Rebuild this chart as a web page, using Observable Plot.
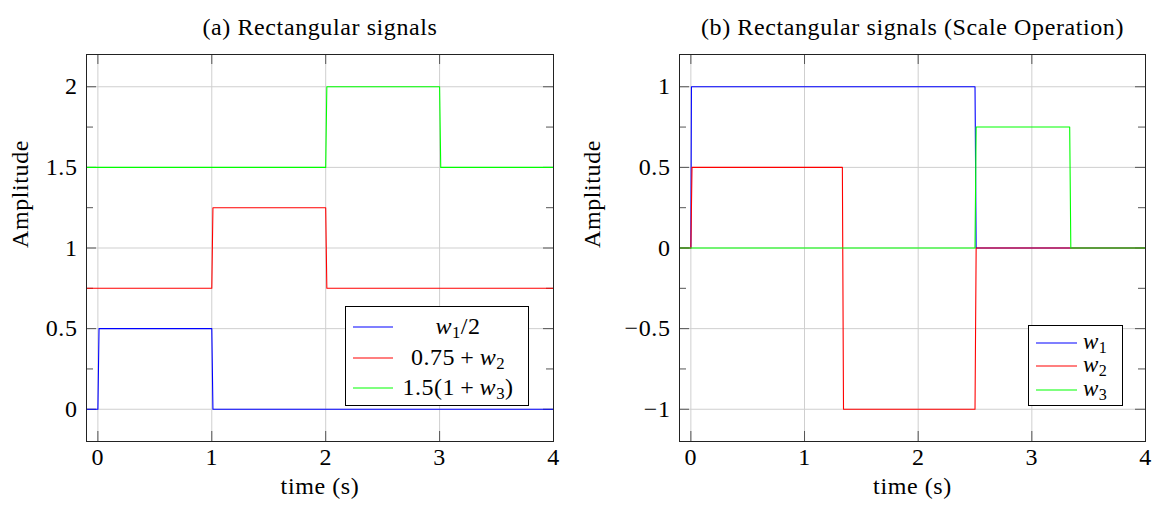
<!DOCTYPE html>
<html>
<head>
<meta charset="utf-8">
<script src="https://cdn.jsdelivr.net/npm/d3@7"></script>
<script src="https://cdn.jsdelivr.net/npm/@observablehq/plot@0.6"></script>
<style>
  html, body { margin: 0; padding: 0; background: #fff; }
  #wrap { position: relative; width: 1158px; height: 507px; font-family: "Liberation Serif", serif; color: #000; }
  .panel { position: absolute; top: 0; }
  .panel text { letter-spacing: 0.6px; }
  .legend { position: absolute; border: 1px solid #000; background: #fff; box-sizing: border-box; }
  .legend svg { position: absolute; left: 0; top: 0; overflow: visible; }
  .row { position: absolute; white-space: nowrap; line-height: 0.85; letter-spacing: 0.5px; }
  .row i { font-style: italic; }
  .row sub { font-size: 0.7em; vertical-align: -0.25em; line-height: 0; }
</style>
</head>
<body>
<div id="wrap">
  <div id="left" class="panel" style="left:0px"></div>
  <div id="right" class="panel" style="left:579px"></div>
</div>
<script>
// ---------- data ----------
const xTicks = [0, 1, 2, 3, 4];

// Panel (a)
const titleA = "(a) Rectangular signals";
const yTicksA = [0, 0.5, 1, 1.5, 2];
const yMinorA = [0.25, 0.75, 1.25, 1.75];
const tBlueA = [-0.1, 0, 0.01, 1, 1.01, 4];
const vBlueA = [0, 0, 0.5, 0.5, 0, 0];
const tRedA = [-0.1, 1, 1.01, 2, 2.01, 4];
const vRedA = [0.75, 0.75, 1.25, 1.25, 0.75, 0.75];
const tGreenA = [-0.1, 2, 2.01, 3, 3.01, 4];
const vGreenA = [1.5, 1.5, 2, 2, 1.5, 1.5];

// Panel (b)
const titleB = "(b) Rectangular signals (Scale Operation)";
const yTicksB = [-1, -0.5, 0, 0.5, 1];
const yMinorB = [-0.75, -0.25, 0.25, 0.75];
const tBlueB = [-0.1, 0, 0.005, 2.5, 2.51, 4];
const vBlueB = [0, 0, 1, 1, 0, 0];
const tRedB = [-0.1, 0, 0.01, 1.333, 1.343, 2.5, 2.51, 4];
const vRedB = [0, 0, 0.5, 0.5, -1, -1, 0, 0];
const tGreenB = [-0.1, 2.5, 2.51, 3.333, 3.343, 4];
const vGreenB = [0, 0, 0.75, 0.75, 0, 0];

const colors = ["#0000ff", "#ff0000", "#00ff00"];
const xLabel = "time (s)";
const yLabel = "Amplitude";

// ---------- helpers ----------
const zip = (t, v) => t.map((d, i) => ({t: d, v: v[i]}));
const fmt = d => (d < 0 ? "\u2212" : "") + Math.abs(d);
const FS = 24;

function panel({title, series, yDomain, yTicks, yMinor, width, height, mL, mR, mT, mB, yLabelX}) {
  const fw = width - mL - mR;
  const fh = height - mT - mB;
  const tickC = "#555";
  const gridC = "#cfcfcf";
  return Plot.plot({
    width, height,
    marginLeft: mL, marginRight: mR, marginTop: mT, marginBottom: mB,
    style: {fontFamily: "'Liberation Serif', serif", fontSize: FS + "px", background: "#fff", color: "#000", overflow: "visible"},
    x: {domain: [-0.1, 4], label: null},
    y: {domain: yDomain, label: null},
    marks: [
      Plot.gridX(xTicks, {stroke: gridC, strokeOpacity: 1}),
      Plot.gridY(yTicks, {stroke: gridC, strokeOpacity: 1}),
      // tick marks inside the frame
      Plot.tickX(xTicks, {insetTop: fh - 10, stroke: tickC}),
      Plot.tickX(xTicks, {insetBottom: fh - 10, stroke: tickC}),
      Plot.tickY(yTicks, {insetRight: fw - 10, stroke: tickC}),
      Plot.tickY(yTicks, {insetLeft: fw - 10, stroke: tickC}),
      Plot.tickY(yMinor, {insetRight: fw - 7, stroke: tickC}),
      Plot.tickY(yMinor, {insetLeft: fw - 7, stroke: tickC}),
      ...series.map((s, i) => Plot.line(zip(s[0], s[1]), {x: "t", y: "v", stroke: colors[i], strokeWidth: 1.1})),
      Plot.frame({stroke: "#222", strokeWidth: 1}),
      Plot.axisX(xTicks, {tickSize: 0, tickPadding: 6, label: null, fontSize: FS, tickFormat: fmt}),
      Plot.axisY(yTicks, {tickSize: 0, tickPadding: 9, label: null, fontSize: FS, tickFormat: fmt}),
      Plot.text([title], {frameAnchor: "top", dy: -37, fontSize: FS}),
      Plot.text([xLabel], {frameAnchor: "bottom", dy: 52, fontSize: FS}),
      Plot.text([yLabel], {frameAnchor: "left", rotate: -90, dx: -(mL - yLabelX), fontSize: FS})
    ]
  });
}

document.getElementById("left").append(panel({
  title: titleA,
  series: [[tBlueA, vBlueA], [tRedA, vRedA], [tGreenA, vGreenA]],
  yDomain: [-0.2, 2.2], yTicks: yTicksA, yMinor: yMinorA,
  width: 579, height: 507, mL: 86, mR: 26, mT: 54, mB: 66, yLabelX: 20
}));
document.getElementById("right").append(panel({
  title: titleB,
  series: [[tBlueB, vBlueB], [tRedB, vRedB], [tGreenB, vGreenB]],
  yDomain: [-1.2, 1.2], yTicks: yTicksB, yMinor: yMinorB,
  width: 579, height: 507, mL: 100, mR: 13, mT: 54, mB: 66, yLabelX: 13
}));

// ---------- legends ----------
const legendA = ["<i>w</i><sub>1</sub>/2", "0.75&thinsp;+&thinsp;<i>w</i><sub>2</sub>", "1.5(1&thinsp;+&thinsp;<i>w</i><sub>3</sub>)"];
const legendB = ["<i>w</i><sub>1</sub>", "<i>w</i><sub>2</sub>", "<i>w</i><sub>3</sub>"];

function legend({left, top, w, h, rows, labels, lineX1, lineX2, textX, align, fontSize}) {
  const box = document.createElement("div");
  box.className = "legend";
  Object.assign(box.style, {left: left + "px", top: top + "px", width: w + "px", height: h + "px"});
  const ns = "http://www.w3.org/2000/svg";
  const svg = document.createElementNS(ns, "svg");
  svg.setAttribute("width", w); svg.setAttribute("height", h);
  labels.forEach((lab, i) => {
    const ln = document.createElementNS(ns, "line");
    ln.setAttribute("x1", lineX1); ln.setAttribute("x2", lineX2);
    ln.setAttribute("y1", rows[i]); ln.setAttribute("y2", rows[i]);
    ln.setAttribute("stroke", colors[i]); ln.setAttribute("stroke-width", 1.1);
    svg.append(ln);
    const r = document.createElement("div");
    r.className = "row";
    r.innerHTML = lab;
    r.style.fontSize = fontSize + "px";
    r.style.top = (rows[i] - fontSize * 0.47) + "px";
    if (align === "center") { r.style.left = textX + "px"; r.style.transform = "translateX(-50%)"; }
    else r.style.left = textX + "px";
    box.append(r);
  });
  box.append(svg);
  document.getElementById("wrap").append(box);
}

legend({left: 345, top: 306, w: 184, h: 100, rows: [20, 51, 81], labels: legendA,
        lineX1: 7, lineX2: 47, textX: 112, align: "center", fontSize: 24});
legend({left: 1028, top: 325, w: 95, h: 81, rows: [17, 40, 64], labels: legendB,
        lineX1: 7, lineX2: 48, textX: 54, align: "left", fontSize: 23});
</script>
</body>
</html>
